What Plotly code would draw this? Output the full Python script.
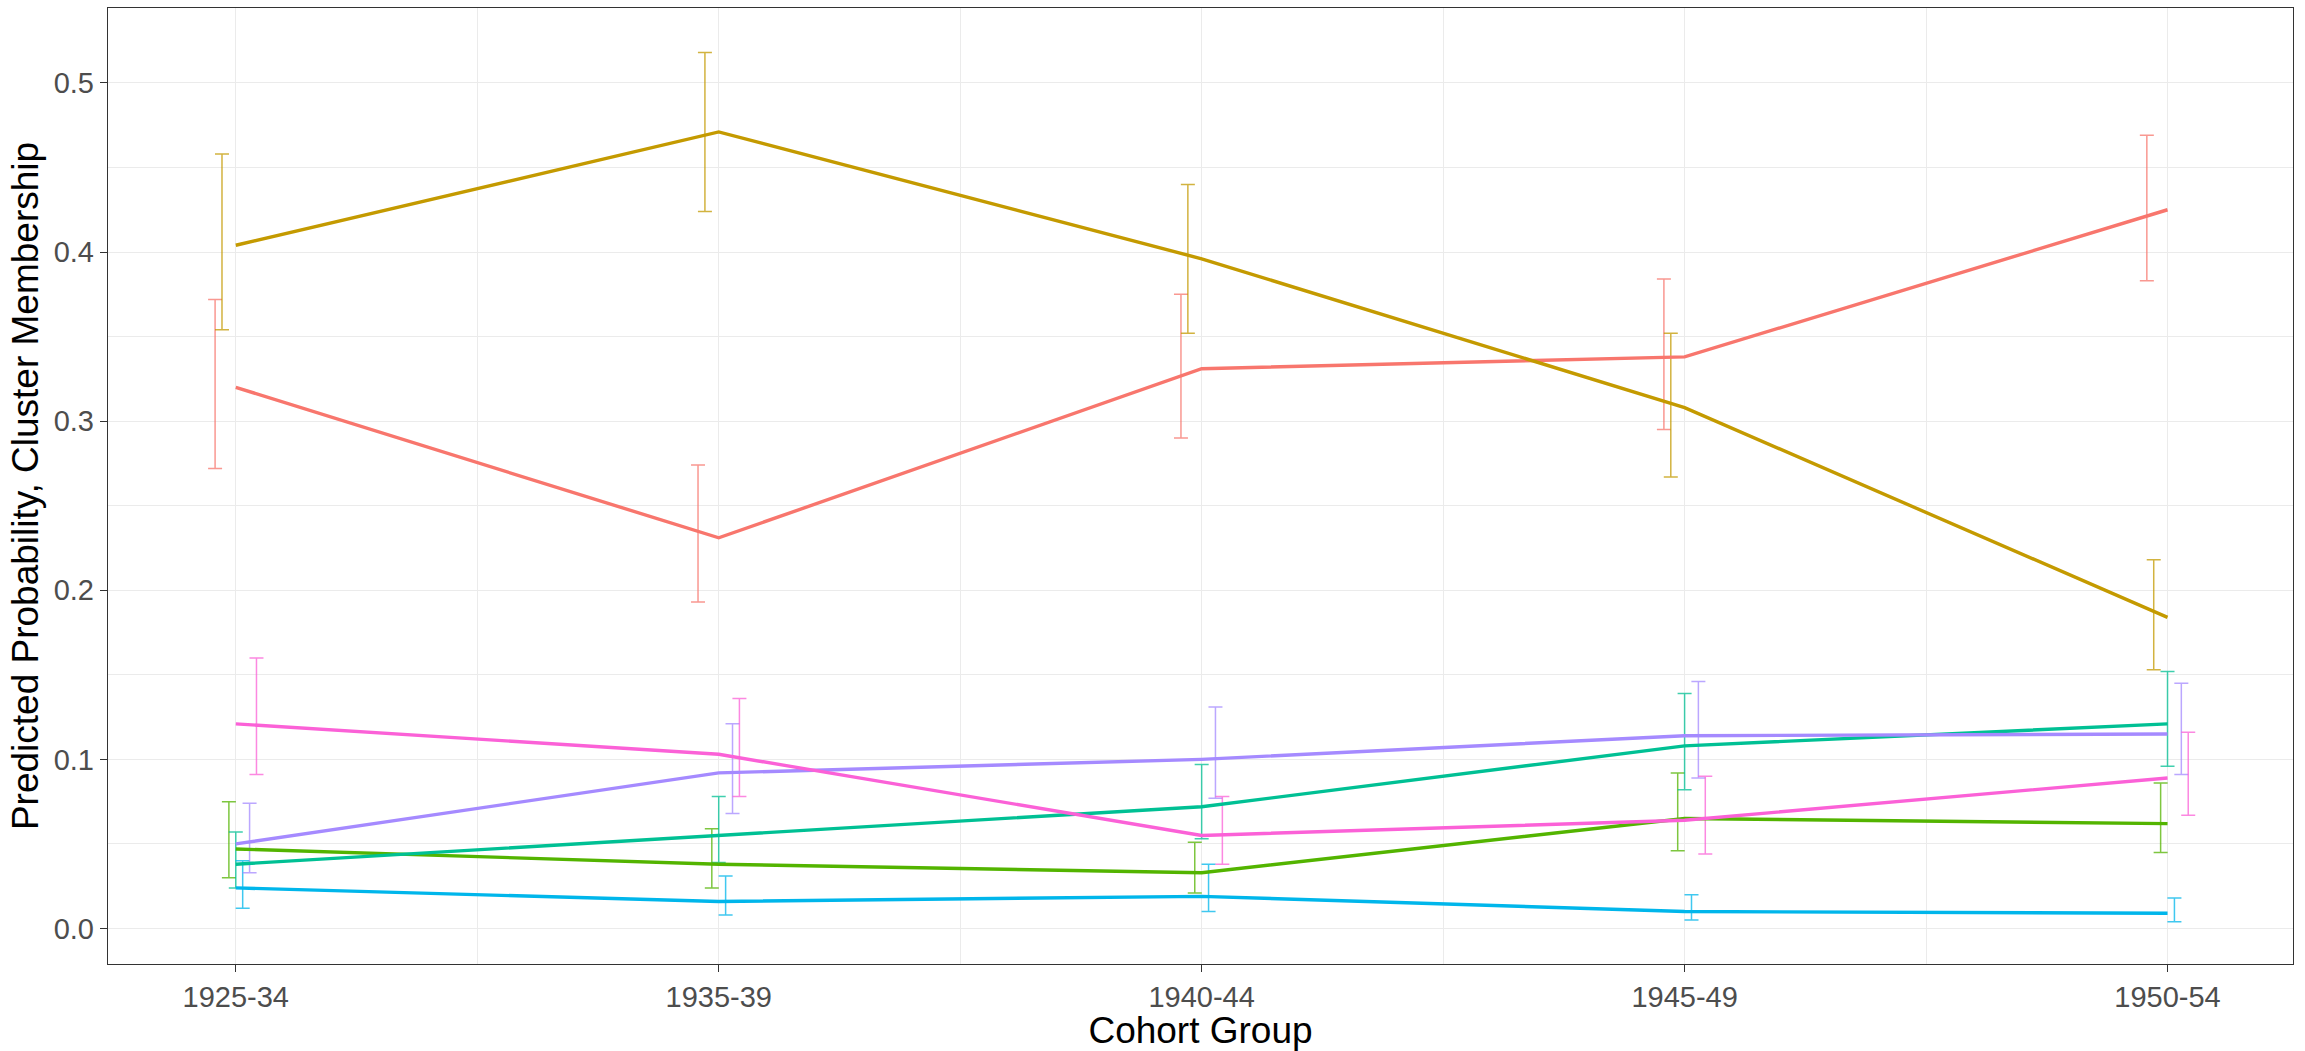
import plotly.graph_objects as go

# Cohort groups on the x axis
cohorts = ["1925-34", "1935-39", "1940-44", "1945-49", "1950-54"]

# Predicted probability of cluster membership, with lower / upper confidence bounds
c1_est = [0.320, 0.231, 0.331, 0.338, 0.425]
c1_lo = [0.272, 0.193, 0.290, 0.295, 0.383]
c1_hi = [0.372, 0.274, 0.375, 0.384, 0.469]

c2_est = [0.404, 0.471, 0.396, 0.308, 0.184]
c2_lo = [0.354, 0.424, 0.352, 0.267, 0.153]
c2_hi = [0.458, 0.518, 0.440, 0.352, 0.218]

c3_est = [0.047, 0.038, 0.033, 0.065, 0.062]
c3_lo = [0.030, 0.024, 0.021, 0.046, 0.045]
c3_hi = [0.075, 0.059, 0.051, 0.092, 0.086]

c4_est = [0.038, 0.055, 0.072, 0.108, 0.121]
c4_lo = [0.024, 0.039, 0.053, 0.082, 0.096]
c4_hi = [0.057, 0.078, 0.097, 0.139, 0.152]

c5_est = [0.024, 0.016, 0.019, 0.010, 0.009]
c5_lo = [0.012, 0.008, 0.010, 0.005, 0.004]
c5_hi = [0.040, 0.031, 0.038, 0.020, 0.018]

c6_est = [0.050, 0.092, 0.100, 0.114, 0.115]
c6_lo = [0.033, 0.068, 0.077, 0.089, 0.091]
c6_hi = [0.074, 0.121, 0.131, 0.146, 0.145]

c7_est = [0.121, 0.103, 0.055, 0.064, 0.089]
c7_lo = [0.091, 0.078, 0.038, 0.044, 0.067]
c7_hi = [0.160, 0.136, 0.078, 0.090, 0.116]

clusters = [
    ("Cluster 1", "#F8766D", c1_est, c1_lo, c1_hi),
    ("Cluster 2", "#C49A00", c2_est, c2_lo, c2_hi),
    ("Cluster 3", "#53B400", c3_est, c3_lo, c3_hi),
    ("Cluster 4", "#00C094", c4_est, c4_lo, c4_hi),
    ("Cluster 5", "#00B6EB", c5_est, c5_lo, c5_hi),
    ("Cluster 6", "#A58AFF", c6_est, c6_lo, c6_hi),
    ("Cluster 7", "#FB61D7", c7_est, c7_lo, c7_hi),
]

x_pos = list(range(1, len(cohorts) + 1))
dodge = 0.1  # total dodge width for the error bars
n = len(clusters)

fig = go.Figure()

# Error bars, dodged sideways per cluster
for g, (name, color, est, lo, hi) in enumerate(clusters):
    off = (g - (n - 1) / 2) * dodge / n
    fig.add_trace(go.Scatter(
        x=[xp + off for xp in x_pos],
        y=est,
        mode="markers",
        marker=dict(size=0.1, color=color, opacity=0),
        opacity=0.75,
        error_y=dict(
            type="data",
            symmetric=False,
            array=[h - e for h, e in zip(hi, est)],
            arrayminus=[e - l for e, l in zip(est, lo)],
            color=color,
            thickness=1.5,
            width=7,
        ),
        showlegend=False,
        hoverinfo="skip",
    ))

# Lines through the point estimates
for name, color, est, lo, hi in clusters:
    fig.add_trace(go.Scatter(
        x=x_pos,
        y=est,
        mode="lines",
        name=name,
        line=dict(color=color, width=3.4),
        showlegend=False,
    ))

axis_font = dict(family="Liberation Sans, Arial, sans-serif", size=29, color="#4D4D4D")
title_font = dict(family="Liberation Sans, Arial, sans-serif", size=37, color="#000000")

fig.update_layout(
    width=2305,
    height=1051,
    margin=dict(l=108, r=12, t=7, b=83),
    paper_bgcolor="white",
    plot_bgcolor="white",
    showlegend=False,
    xaxis=dict(
        range=[0.7354, 5.2598],
        tickmode="array",
        tickvals=x_pos,
        ticktext=cohorts,
        tickfont=axis_font,
        ticks="outside",
        ticklen=7,
        tickwidth=1.3,
        tickcolor="#333333",
        showgrid=True,
        gridcolor="#EBEBEB",
        gridwidth=1.4,
        minor=dict(tick0=0.5, dtick=1, showgrid=True, gridcolor="#EBEBEB", gridwidth=1.0, ticks=""),
        showline=True,
        mirror=True,
        linecolor="#333333",
        linewidth=1.4,
        zeroline=False,
        title=dict(text="Cohort Group", font=title_font, standoff=5),
    ),
    yaxis=dict(
        range=[-0.0210, 0.5443],
        tickmode="array",
        tickvals=[0.0, 0.1, 0.2, 0.3, 0.4, 0.5],
        ticktext=["0.0", "0.1", "0.2", "0.3", "0.4", "0.5"],
        tickfont=axis_font,
        ticks="outside",
        ticklen=7,
        tickwidth=1.3,
        tickcolor="#333333",
        showgrid=True,
        gridcolor="#EBEBEB",
        gridwidth=1.4,
        minor=dict(tick0=0.05, dtick=0.1, showgrid=True, gridcolor="#EBEBEB", gridwidth=1.0, ticks=""),
        showline=True,
        mirror=True,
        linecolor="#333333",
        linewidth=1.4,
        zeroline=False,
        title=dict(text="Predicted Probability, Cluster Membership", font=title_font, standoff=3),
    ),
)

fig.write_html("out.html")
